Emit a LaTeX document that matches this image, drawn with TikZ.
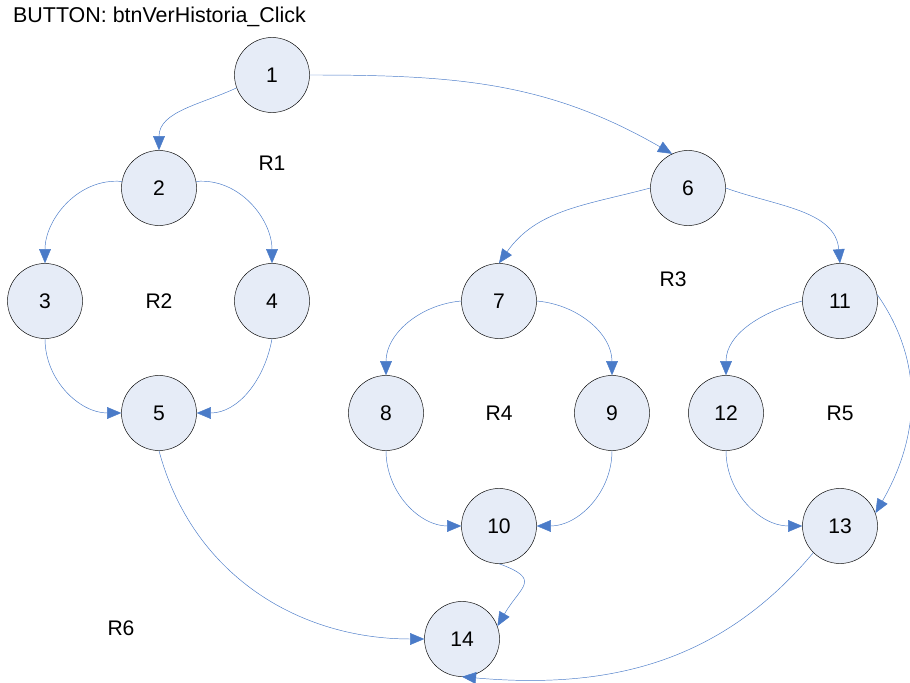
\documentclass[tikz,border=0pt]{standalone}
\usepackage{fontspec}
\setmainfont{Liberation Sans}
\usetikzlibrary{arrows.meta}
\definecolor{NodeFill}{HTML}{E6ECF7}
\definecolor{FlowBlue}{HTML}{4A7BC8}

\begin{document}
\begin{tikzpicture}[x=0.03cm,y=-0.03cm,
    flownode/.style={circle,draw=black,fill=NodeFill,minimum size=2.25cm,
          inner sep=0pt,font=\fontsize{18}{21}\selectfont},
    region/.style={font=\fontsize{18}{21}\selectfont},
    flow/.style={-{Triangle[length=12pt,width=10pt]},color=FlowBlue,thin}]
    \useasboundingbox (0,0) rectangle (910,683);
    \node[anchor=west,font=\fontsize{18.3}{21}\selectfont] (title) at (9,17)
          {BUTTON: btnVerHistoria\_Click};
    % nodes of the flow graph
    \node[flownode] (n1) at (272,75) {1};
    \node[flownode] (n2) at (159,188) {2};
    \node[flownode] (n3) at (45,301) {3};
    \node[flownode] (n4) at (272,301) {4};
    \node[flownode] (n5) at (159,413) {5};
    \node[flownode] (n6) at (688,188) {6};
    \node[flownode] (n7) at (499,301) {7};
    \node[flownode] (n8) at (386,413) {8};
    \node[flownode] (n9) at (612,413) {9};
    \node[flownode] (n10) at (499,526) {10};
    \node[flownode] (n11) at (840,301) {11};
    \node[flownode] (n12) at (726,413) {12};
    \node[flownode] (n13) at (840,526) {13};
    \node[flownode] (n14) at (462,639) {14};
    % regions
    \node[region] (r1) at (272,163) {R1};
    \node[region] (r2) at (159,301) {R2};
    \node[region] (r3) at (673,279) {R3};
    \node[region] (r4) at (499,413) {R4};
    \node[region] (r5) at (840,413) {R5};
    \node[region] (r6) at (121,628) {R6};
    % edges
    \draw[flow] (n1.200) to[out=205,in=90] (n2.north);
    \draw[flow] (n1.east) to[out=0,in=150] (n6.115);
    \draw[flow] (n2.170) to[out=175,in=90] (n3.north);
    \draw[flow] (n2.10) to[out=5,in=90] (n4.north);
    \draw[flow] (n3.south) to[out=-90,in=180] (n5.west);
    \draw[flow] (n4.south) to[out=-100,in=0] (n5.east);
    \draw[flow] (n5.south) to[out=-75,in=180] (n14.west);
    \draw[flow] (n6.west) to[out=195,in=55] (n7.north);
    \draw[flow] (n6.east) to[out=-20,in=95] (n11.north);
    \draw[flow] (n7.west) to[out=185,in=90] (n8.north);
    \draw[flow] (n7.east) to[out=-5,in=90] (n9.north);
    \draw[flow] (n8.south) to[out=-90,in=180] (n10.west);
    \draw[flow] (n9.south) to[out=-90,in=0] (n10.east);
    \draw[flow] (n10.south) to[out=-20,in=60,looseness=1.9] (n14.20);
    \draw[flow] (n11.west) to[out=195,in=90] (n12.north);
    \draw[flow] (n11.10) to[out=-55,in=60] (n13.20);
    \draw[flow] (n12.south) to[out=-90,in=180] (n13.west);
    \draw[flow] (n13.225) to[out=-130,in=-5] (n14.south);
  \end{tikzpicture}
\end{document}
